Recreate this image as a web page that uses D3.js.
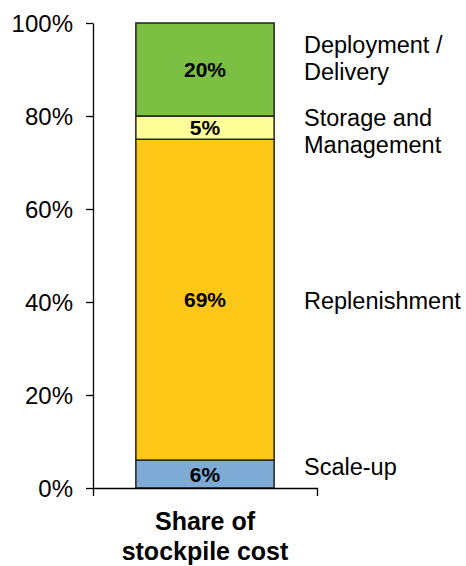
<!DOCTYPE html>
<html>
<head>
  <script src="https://d3js.org/d3.v7.min.js"></script>
  <style>
    body { margin: 0; background: #fff; }
    text { font-family: Arial, "Liberation Sans", sans-serif; fill: #000; }
  </style>
</head>
<body>
  <svg id="chart" width="466" height="566"></svg>
  <script>
    // stacked segments, bottom to top
    const segments = ["Scale-up", "Replenishment", "Storage and Management", "Deployment / Delivery"];
    const shares = [6, 69, 5, 20];
    const segmentColors = ["#7eabd5", "#fcc716", "#ffff99", "#7bbf43"];
    // legend text lines per segment, and where (in % of the axis) each label sits
    const legendLines = [["Scale-up"], ["Replenishment"], ["Storage and", "Management"], ["Deployment /", "Delivery"]];
    const legendAt = [4.7, 40.4, 76.8, 92.4];
    const category = ["Share of", "stockpile cost"];
    const yTicks = [0, 20, 40, 60, 80, 100];

    const svg = d3.select("#chart");
    const margins = { top: 23, left: 93, bottom: 78, right: 149 };
    const width = +svg.attr("width") - margins.left - margins.right;
    const height = +svg.attr("height") - margins.top - margins.bottom;

    const g = svg.append("g")
      .attr("transform", `translate(${margins.left},${margins.top})`);

    const x = d3.scaleBand()
      .domain([category.join(" ")])
      .range([0, width])
      .paddingInner(0)
      .paddingOuter(0.31);
    const y = d3.scaleLinear().domain([0, 100]).range([height, 0]);

    // cumulative stack
    let run = 0;
    const stack = shares.map((v, i) => {
      const d = { name: segments[i], v: v, y0: run, y1: run + v, color: segmentColors[i] };
      run += v;
      return d;
    });

    g.selectAll("rect.seg")
      .data(stack)
      .join("rect")
      .attr("class", "seg")
      .attr("x", x(x.domain()[0]))
      .attr("width", x.bandwidth())
      .attr("y", d => y(d.y1))
      .attr("height", d => y(d.y0) - y(d.y1))
      .attr("fill", d => d.color)
      .attr("stroke", "#222")
      .attr("stroke-width", 1.5);

    g.selectAll("text.val")
      .data(stack)
      .join("text")
      .attr("class", "val")
      .attr("x", x(x.domain()[0]) + x.bandwidth() / 2)
      .attr("y", d => y((d.y0 + d.y1) / 2))
      .attr("dy", "0.36em")
      .attr("text-anchor", "middle")
      .style("font-weight", "bold")
      .style("font-size", "21px")
      .text(d => d.v + "%");

    // y axis
    const yAxis = g.append("g")
      .call(d3.axisLeft(y).tickValues(yTicks).tickSize(7).tickSizeOuter(0).tickFormat(d => d + "%"));
    yAxis.selectAll("path, line").attr("stroke", "#000").attr("stroke-width", 1.3);
    yAxis.selectAll("text")
      .attr("x", -20)
      .attr("dy", "0.36em")
      .style("font-size", "24px")
      .style("font-family", "Arial, 'Liberation Sans', sans-serif");

    // x axis: baseline with end ticks only
    const xAxis = g.append("g")
      .attr("transform", `translate(0,${height})`)
      .call(d3.axisBottom(x).tickSizeInner(0).tickSizeOuter(8).tickFormat(""));
    xAxis.selectAll("path").attr("stroke", "#000").attr("stroke-width", 1.3);

    const cat = g.append("text")
      .attr("x", x(x.domain()[0]) + x.bandwidth() / 2)
      .attr("y", height + 42)
      .attr("text-anchor", "middle")
      .style("font-weight", "bold")
      .style("font-size", "25px");
    category.forEach((t, i) => {
      cat.append("tspan")
        .attr("x", x(x.domain()[0]) + x.bandwidth() / 2)
        .attr("dy", i === 0 ? 0 : 30)
        .text(t);
    });

    // labels on the right
    const legend = g.selectAll("text.leg")
      .data(legendLines)
      .join("text")
      .attr("class", "leg")
      .attr("x", width - 13)
      .attr("y", (d, i) => y(legendAt[i]) - (d.length - 1) * 13.5)
      .style("font-size", "23.5px");
    legend.each(function (lines) {
      const t = d3.select(this);
      lines.forEach((line, j) => {
        t.append("tspan")
          .attr("x", t.attr("x"))
          .attr("dy", j === 0 ? "0.36em" : 27)
          .text(line);
      });
    });
  </script>
</body>
</html>
